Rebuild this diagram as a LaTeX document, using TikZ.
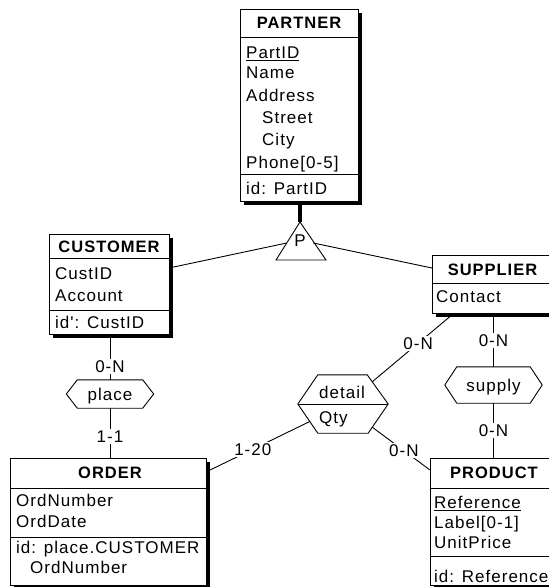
\documentclass[tikz,border=0pt]{standalone}
\usepackage{fontspec}
\newfontfamily\erfont{Liberation Sans}[LetterSpace=6]
\usetikzlibrary{shadows,calc}
\newcommand\erul[1]{\setbox0\hbox{#1}\rlap{\rule[-3pt]{\wd0}{1.3pt}}\box0}
\begin{document}
\begin{tikzpicture}[x=1pt,y=-1pt,
  font=\erfont\fontsize{17}{20}\selectfont,
  ent/.style={draw, fill=white, line width=0.9pt, inner sep=0pt, anchor=north west,
    general shadow={fill=black, shadow xshift=3.5pt, shadow yshift=-3.5pt}},
  ttl/.style={font=\erfont\bfseries\fontsize{16.5}{19}\selectfont, inner sep=0pt, text height=11.8pt, text depth=0pt},
  attr/.style={anchor=west, inner sep=0pt, text height=12pt, text depth=0pt},
  lbl/.style={fill=white, inner sep=1.5pt, text height=12pt, text depth=0pt},
  conn/.style={line width=0.9pt},
  sepline/.style={line width=0.9pt},
  relbox/.style={inner sep=0pt, text height=12pt, text depth=0pt}]
\useasboundingbox (0,0) rectangle (549,587);
\clip (0,0) rectangle (549,587);

% ---------- entities ----------
% PARTNER
\node[ent, minimum width=118pt, minimum height=192pt] (partner) at (240,9) {};
\draw[sepline] (240,37) -- (358,37);
\draw[sepline] (240,174) -- (358,174);
\node[ttl] (partnerT) at (299,23) {PARTNER};
\node[attr] (p1) at (246,52) {\erul{PartID}};
\node[attr] (p2) at (246,72) {Name};
\node[attr] (p3) at (246,95) {Address};
\node[attr] (p4) at (262,117) {Street};
\node[attr] (p5) at (262,139) {City};
\node[attr] (p6) at (246,162) {Phone[0-5]};
\node[attr] (p7) at (246,188) {id: PartID};

% CUSTOMER
\node[ent, minimum width=120pt, minimum height=100pt] (customer) at (49,234) {};
\draw[sepline] (49,258) -- (169,258);
\draw[sepline] (49,310) -- (169,310);
\node[ttl] (customerT) at (109,247) {CUSTOMER};
\node[attr] (c1) at (55,273) {CustID};
\node[attr] (c2) at (55,295) {Account};
\node[attr] (c3) at (55,322) {id': CustID};

% SUPPLIER
\node[ent, minimum width=121pt, minimum height=58pt] (supplier) at (432,255) {};
\draw[sepline] (432,283) -- (553,283);
\node[ttl] (supplierT) at (492.5,270) {SUPPLIER};
\node[attr] (s1) at (436,296) {Contact};

% ORDER
\node[ent, minimum width=196pt, minimum height=127pt] (order) at (10,458) {};
\draw[sepline] (10,488) -- (206,488);
\node[ttl] (orderT) at (110,473) {ORDER};
\draw[sepline] (10,537) -- (206,537);
\node[attr] (o1) at (16,500) {OrdNumber};
\node[attr] (o2) at (16,521) {OrdDate};
\node[attr] (o3) at (16,547) {id: place.CUSTOMER};
\node[attr] (o4) at (30,567) {OrdNumber};

% PRODUCT
\node[ent, minimum width=128pt, minimum height=127pt] (product) at (430,458) {};
\draw[sepline] (430,488) -- (558,488);
\draw[sepline] (430,556) -- (558,556);
\node[ttl] (productT) at (494,473) {PRODUCT};
\node[attr] (r1) at (434,502) {\erul{Reference}};
\node[attr] (r2) at (434,522) {Label[0-1]};
\node[attr] (r3) at (434,542) {UnitPrice};
\node[attr] (r4) at (434,576) {id: Reference};

% ---------- ISA triangle ----------
\coordinate (isatop) at (300,222);
\draw[line width=0.9pt, fill=white] (isatop) -- (276,260) -- (326,260) -- cycle;
\node[relbox] (isa) at (300,240) {P};
\draw[line width=4pt] (partner.south -| isatop) -- (isatop);
\coordinate (isaL) at (286.7,243);
\coordinate (isaR) at (313.3,243);
\coordinate (custR) at (169,268);
\coordinate (suppL) at (432,268);
\draw[conn] (isaL) -- (custR);
\draw[conn] (isaR) -- (suppL);

% ---------- place ----------
\node[relbox, minimum width=87pt, minimum height=28pt] (place) at (110,394) {place};
\draw[line width=0.9pt] (place.west) -- ($(place.north west)+(11,0)$) -- ($(place.north east)+(-11,0)$)
  -- (place.east) -- ($(place.south east)+(-11,0)$) -- ($(place.south west)+(11,0)$) -- cycle;
\draw[conn] (place.north |- customer.south) -- (place.north) node[lbl, pos=0.7] (lpc) {0-N};
\draw[conn] (place.south) -- (place.south |- order.north) node[lbl, pos=0.57] (lpo) {1-1};

% ---------- supply ----------
\node[relbox, minimum width=97pt, minimum height=36pt] (supply) at (493.5,385) {supply};
\draw[line width=0.9pt] (supply.west) -- ($(supply.north west)+(12,0)$) -- ($(supply.north east)+(-12,0)$)
  -- (supply.east) -- ($(supply.south east)+(-12,0)$) -- ($(supply.south west)+(12,0)$) -- cycle;
\draw[conn] (supply.north |- supplier.south) -- (supply.north) node[lbl, pos=0.5] (lss) {0-N};
\draw[conn] (supply.south) -- (supply.south |- product.north) node[lbl, pos=0.5] (lsp) {0-N};

% ---------- detail ----------
\node[minimum width=90pt, minimum height=58pt, inner sep=0pt] (detail) at (343,404) {};
\draw[line width=0.9pt] (detail.west) -- ($(detail.north west)+(20,0)$) -- ($(detail.north east)+(-21,0)$)
  -- (detail.east) -- ($(detail.south east)+(-20,0)$) -- ($(detail.south west)+(20,0)$) -- cycle;
\draw[line width=0.9pt] (detail.west) -- (detail.east);
\node[attr] (dname) at (319,392) {detail};
\node[attr] (dqty) at (319,417) {Qty};
\coordinate (dNE) at (372,382);
\coordinate (dSW) at (310,421.4);
\coordinate (dSE) at (372,427);
\coordinate (suppD) at (453,314);
\coordinate (ordR) at (206,472);
\coordinate (prodL) at (430,470);
\draw[conn] (suppD) -- (dNE) node[lbl, pos=0.43] (lsd) {0-N};
\draw[conn] (dSW) -- (ordR) node[lbl, pos=0.55] (ldo) {1-20};
\draw[conn] (dSE) -- (prodL) node[lbl, pos=0.55] (ldp) {0-N};
\end{tikzpicture}
\end{document}
